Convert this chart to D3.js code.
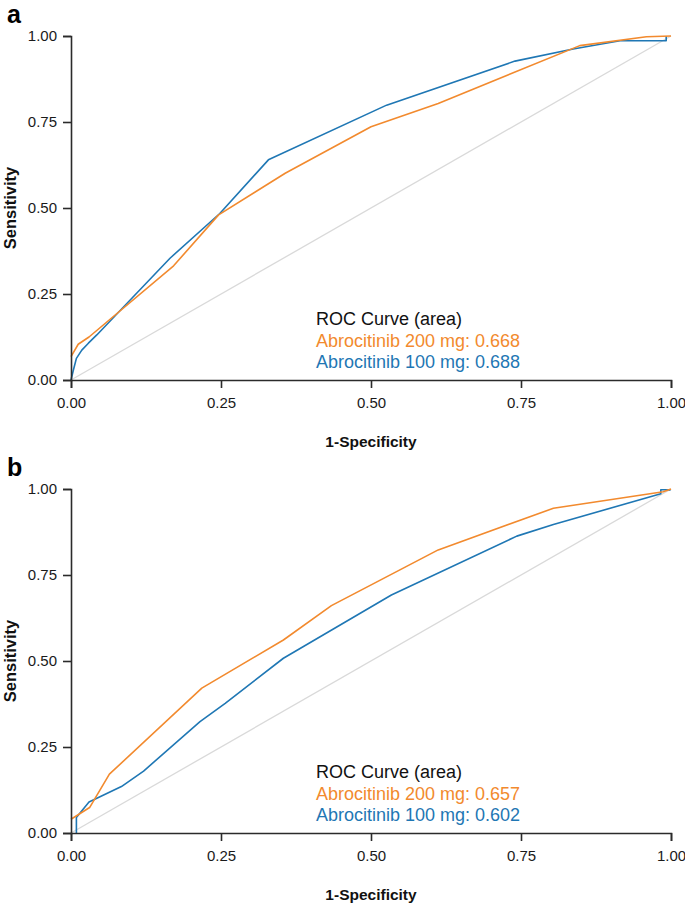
<!DOCTYPE html>
<html>
<head>
<meta charset="utf-8">
<script src="https://cdn.jsdelivr.net/npm/d3@7"></script>
<style>
  html, body { margin: 0; padding: 0; background: #fff; }
  svg { display: block; font-family: "Liberation Sans", Arial, Helvetica, sans-serif; }
</style>
</head>
<body>
<svg id="chart" width="685" height="908"></svg>
<script>
// ---------- data ----------
const panelLabels = ["a", "b"];
const tickValues = [0, 0.25, 0.5, 0.75, 1.0];
const xTitle = "1-Specificity";
const yTitle = "Sensitivity";
const legendTitle = "ROC Curve (area)";
const seriesNames = ["Abrocitinib 200 mg", "Abrocitinib 100 mg"];
const aucA = ["0.668", "0.688"];
const aucB = ["0.657", "0.602"];

// Panel a, 200 mg
const a200X = [0, 0.012, 0.03, 0.171, 0.246, 0.357, 0.5, 0.612, 0.848, 0.959, 1.0];
const a200Y = [0.068, 0.104, 0.125, 0.332, 0.48, 0.601, 0.736, 0.804, 0.972, 0.998, 1.0];
// Panel a, 100 mg
const a100X = [0, 0.004, 0.009, 0.018, 0.029, 0.043, 0.165, 0.248, 0.329, 0.526, 0.74, 0.837, 0.915, 0.992, 0.992];
const a100Y = [0, 0.029, 0.063, 0.087, 0.107, 0.131, 0.354, 0.484, 0.64, 0.799, 0.927, 0.962, 0.986, 0.986, 1.0];
// Panel b, 200 mg
const b200X = [0, 0.031, 0.064, 0.218, 0.354, 0.434, 0.612, 0.804, 0.915, 0.987, 1.0];
const b200Y = [0.04, 0.074, 0.171, 0.421, 0.561, 0.661, 0.823, 0.944, 0.973, 0.992, 1.0];
// Panel b, 100 mg
const b100X = [0.009, 0.009, 0.03, 0.084, 0.121, 0.215, 0.257, 0.354, 0.534, 0.743, 0.804, 0.983, 0.983, 0.998, 0.998];
const b100Y = [0, 0.045, 0.09, 0.135, 0.18, 0.324, 0.377, 0.508, 0.692, 0.863, 0.897, 0.986, 0.998, 0.998, 0.995];

const diagX = [0, 1];
const diagY = [0, 1];

// ---------- drawing ----------
const colors = ["#f28a2e", "#1f77b4"];
const svg = d3.select("#chart");

const panels = [
  { label: panelLabels[0], top: 36, bottom: 380, s200: [a200X, a200Y], s100: [a100X, a100Y], auc: aucA },
  { label: panelLabels[1], top: 489, bottom: 833, s200: [b200X, b200Y], s100: [b100X, b100Y], auc: aucB }
];

const x = d3.scaleLinear().domain([0, 1]).range([71, 671]);
const fmt = d3.format(".2f");

panels.forEach(p => {
  const y = d3.scaleLinear().domain([0, 1]).range([p.bottom, p.top]);
  const g = svg.append("g");

  const line = d3.line().x(d => x(d[0])).y(d => y(d[1]));
  const zipPts = (xs, ys) => xs.map((v, i) => [v, ys[i]]);

  // diagonal reference
  g.append("path")
    .attr("d", line(zipPts(diagX, diagY)))
    .attr("fill", "none").attr("stroke", "#d9d9d9").attr("stroke-width", 1.3);

  // curves: 100 mg first, 200 mg on top
  g.append("path")
    .attr("d", line(zipPts(p.s100[0], p.s100[1])))
    .attr("fill", "none").attr("stroke", colors[1]).attr("stroke-width", 1.6)
    .attr("stroke-linejoin", "round");
  g.append("path")
    .attr("d", line(zipPts(p.s200[0], p.s200[1])))
    .attr("fill", "none").attr("stroke", colors[0]).attr("stroke-width", 1.6)
    .attr("stroke-linejoin", "round");

  // axes
  const xAxis = d3.axisBottom(x).tickValues(tickValues).tickFormat(fmt)
    .tickSize(8).tickPadding(9);
  const yAxis = d3.axisLeft(y).tickValues(tickValues).tickFormat(fmt)
    .tickSize(8).tickPadding(6);

  const gx = g.append("g").attr("transform", `translate(0,${p.bottom})`).call(xAxis);
  const gy = g.append("g").attr("transform", `translate(71,0)`).call(yAxis);
  [gx, gy].forEach(a => {
    a.select(".domain").attr("stroke", "#2b2b2b").attr("stroke-width", 1.6);
    a.selectAll(".tick line").attr("stroke", "#2b2b2b").attr("stroke-width", 1.6);
    a.selectAll(".tick text").attr("font-size", 15).attr("fill", "#1a1a1a")
      .attr("font-family", "Liberation Sans, Arial, sans-serif");
  });

  // axis titles
  g.append("text")
    .attr("x", 371).attr("y", p.bottom + 67)
    .attr("text-anchor", "middle").attr("font-size", 15.5).attr("font-weight", "bold")
    .attr("fill", "#111").text(xTitle);
  g.append("text")
    .attr("transform", `translate(16,${(p.top + p.bottom) / 2}) rotate(-90)`)
    .attr("text-anchor", "middle").attr("font-size", 16.5).attr("font-weight", "bold")
    .attr("fill", "#111").text(yTitle);

  // panel letter
  g.append("text")
    .attr("x", 7).attr("y", p.top - 13)
    .attr("font-size", 25).attr("font-weight", "bold").attr("fill", "#000")
    .text(p.label);

  // legend
  const lx = 316;
  g.append("text").attr("x", lx).attr("y", p.bottom - 55)
    .attr("font-size", 18).attr("fill", "#111").text(legendTitle);
  g.append("text").attr("x", lx).attr("y", p.bottom - 33.5)
    .attr("font-size", 18).attr("fill", colors[0]).text(`${seriesNames[0]}: ${p.auc[0]}`);
  g.append("text").attr("x", lx).attr("y", p.bottom - 12)
    .attr("font-size", 18).attr("fill", colors[1]).text(`${seriesNames[1]}: ${p.auc[1]}`);
});
</script>
</body>
</html>
